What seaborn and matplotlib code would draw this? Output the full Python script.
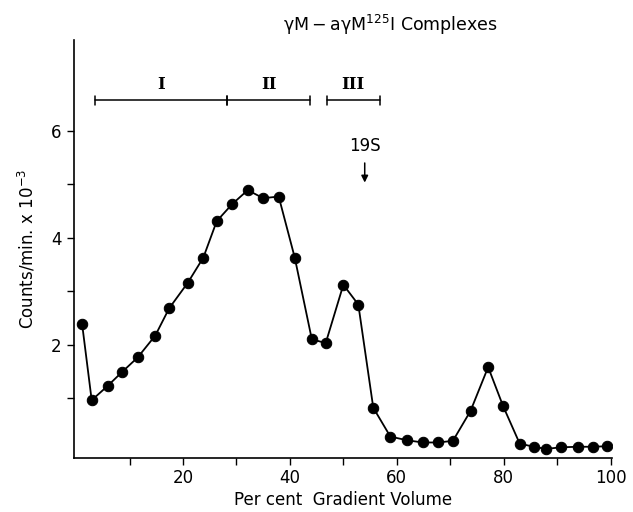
import matplotlib
matplotlib.use("Agg")
import matplotlib.pyplot as plt
import seaborn as sns
import pandas as pd

# Gradient fractions (% of gradient volume) and radioactivity (counts/min x 10^-3)
gradient_pct = [1.1, 2.9, 5.9, 8.6, 11.5, 14.8, 17.4, 20.9, 23.8, 26.3, 29.2, 32.1,
                35.0, 37.9, 40.9, 44.1, 46.7, 50.0, 52.8, 55.6, 58.8, 62.0, 64.9,
                67.7, 70.5, 73.8, 77.1, 79.9, 83.0, 85.6, 87.9, 90.8, 93.9, 96.7, 99.4]
counts = [2.39, 0.96, 1.23, 1.49, 1.76, 2.17, 2.68, 3.16, 3.63, 4.31, 4.63, 4.89,
          4.74, 4.77, 3.63, 2.10, 2.03, 3.12, 2.75, 0.82, 0.28, 0.21, 0.17,
          0.17, 0.20, 0.76, 1.58, 0.85, 0.15, 0.09, 0.05, 0.08, 0.09, 0.09, 0.10]

# Pooled regions I, II, III (start, end) in % gradient volume
pool_labels = ["I", "II", "III"]
pool_start = [3.6, 28.2, 46.9]
pool_end = [28.2, 43.8, 56.8]

x_ticks = [10, 20, 30, 40, 50, 60, 70, 80, 90, 100]
x_ticklabels = ["", "20", "", "40", "", "60", "", "80", "", "100"]
y_ticks = [1, 2, 3, 4, 5, 6]
y_ticklabels = ["", "2", "", "4", "", "6"]

marker_19s = 54.0

sns.set_style("ticks")
plt.rcParams["font.family"] = ["DejaVu Sans"]
plt.rcParams["text.color"] = "black"
plt.rcParams["axes.labelcolor"] = "black"

df = pd.DataFrame({"pct": gradient_pct, "cpm": counts})

fig = plt.figure(figsize=(6.33, 5.12), dpi=100)
ax = fig.add_axes([0.117, 0.1055, 0.85, 0.8165])

sns.lineplot(data=df, x="pct", y="cpm", ax=ax, color="black", linewidth=1.3,
             marker="o", markersize=7.5, markeredgecolor="black",
             markerfacecolor="black", sort=False)

ax.set_xlim(-0.4, 100.3)
ax.set_ylim(-0.12, 7.7)
ax.set_xticks(x_ticks)
ax.set_xticklabels(x_ticklabels)
ax.set_yticks(y_ticks)
ax.set_yticklabels(y_ticklabels)
ax.tick_params(axis="both", direction="out", length=5, width=1.0,
               labelsize=12, colors="black")
ax.tick_params(axis="x", pad=3)
ax.tick_params(axis="y", pad=4)
for side in ("top", "right"):
    ax.spines[side].set_visible(False)
for side in ("left", "bottom"):
    ax.spines[side].set_linewidth(1.2)
    ax.spines[side].set_color("black")

ax.set_xlabel("Per cent  Gradient Volume", fontsize=12, labelpad=3)
ax.set_ylabel("Counts/min. x 10$^{-3}$", fontsize=12, labelpad=10)

# Pool brackets
bracket_y = 6.57
for lab, s, e in zip(pool_labels, pool_start, pool_end):
    ax.plot([s, e], [bracket_y, bracket_y], color="black", lw=1.1)
    for xe in (s, e):
        ax.plot([xe, xe], [bracket_y - 0.09, bracket_y + 0.09], color="black", lw=1.1)
    ax.text((s + e) / 2, bracket_y + 0.13, lab, ha="center", va="bottom",
            fontsize=12, family="DejaVu Serif", fontweight="bold", color="black")

# 19S sedimentation marker
ax.text(marker_19s, 5.55, "19S", ha="center", va="bottom", fontsize=12, color="black")
ax.annotate("", xy=(marker_19s, 4.98), xytext=(marker_19s, 5.45),
            arrowprops=dict(arrowstyle="-|>", color="black", lw=1.1,
                            mutation_scale=10))

fig.text(0.617, 0.952, "γM\u2009\u2212\u2009aγM$^{125}$I Complexes",
         ha="center", va="center", fontsize=12.5, color="black")

fig.savefig("out.png", dpi=100, facecolor="white")
